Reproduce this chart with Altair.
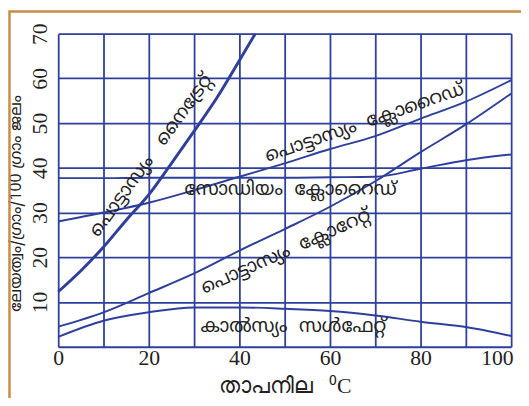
import altair as alt
import pandas as pd

# ---- data ----
temps = [0, 10, 20, 30, 40, 50, 60, 70, 80, 90, 100]
kno3_t = [0, 5, 10, 15, 20, 25, 30, 35, 40, 43.5]
kno3_s = [12.3, 17.0, 22.3, 28.3, 34.0, 41.0, 48.2, 55.6, 64.0, 70.0]
kcl_s = [28.0, 30.0, 32.2, 35.0, 38.0, 41.0, 44.2, 47.1, 51.0, 54.8, 59.6]
nacl_s = [37.7, 37.7, 37.8, 37.8, 37.8, 37.8, 37.9, 38.0, 39.8, 41.7, 43.0]
kclo3_s = [4.5, 7.7, 12.0, 16.4, 21.5, 26.3, 31.3, 37.0, 43.5, 49.7, 56.6]
caso4_s = [2.2, 5.8, 7.7, 8.8, 8.8, 8.5, 8.0, 7.0, 5.6, 4.4, 2.4]

x_ticks = [0, 10, 20, 30, 40, 50, 60, 70, 80, 90, 100]
y_ticks = [0, 10, 20, 30, 40, 50, 60, 70]

NB = "\u00a0"
label_text = ["പൊട്ടാസ്യം" + NB * 3 + "നൈട്രേറ്റ്",
              "പൊട്ടാസ്യം" + NB * 2 + "ക്ലോറൈഡ്",
              "സോഡിയം" + NB * 2 + "ക്ലോറൈഡ്",
              "പൊട്ടാസ്യം" + NB * 2 + "ക്ലോറേറ്റ്",
              "കാൽസ്യം" + NB * 2 + "സൾഫേറ്റ്"]
label_t = [20.4, 67.6, 51.3, 50.2, 51.9]
label_s = [42.8, 50.2, 35.2, 21.4, 4.6]
label_angle = [-54, -19, 0, -24, 0]

x_title = "താപനില" + NB * 3 + "⁰C"
y_title = "ലേയത്വം/ഗ്രാം/100 ഗ്രാം ജലം"

BLUE = "#2f3f9c"
ORANGE = "#c98b45"
MAL = "'Noto Sans Malayalam', 'Noto Sans', sans-serif"
SERIF = "'Liberation Serif', 'Times New Roman', Times, serif"

rows = []
for t, s in zip(kno3_t, kno3_s):
    rows.append({"series": "KNO3", "T": t, "S": s})
for name, vals in [("KCl", kcl_s), ("NaCl", nacl_s), ("KClO3", kclo3_s), ("CaSO4", caso4_s)]:
    for t, s in zip(temps, vals):
        rows.append({"series": name, "T": t, "S": s})
df = pd.DataFrame(rows)

labels = pd.DataFrame({"text": label_text, "T": label_t, "S": label_s, "angle": label_angle})

xscale = alt.Scale(domain=[0, 100], nice=False, zero=False)
yscale = alt.Scale(domain=[0, 70], nice=False)

xaxis = alt.Axis(
    values=x_ticks, grid=True, gridColor=BLUE, gridWidth=1.8, gridOpacity=1,
    domain=False, ticks=False, tickSize=0,
    labelExpr="datum.value % 20 == 0 ? datum.label : ''",
    labelFont=SERIF, labelFontSize=22, labelColor="#222", labelPadding=1,
    labelAlign={"condition": {"test": "datum.value == 100", "value": "right"}, "value": "center"},
    labelOffset={"condition": {"test": "datum.value == 100", "value": 2}, "value": 0},
    title=x_title, titleFont=SERIF, titleFontSize=22, titleFontWeight="normal",
    titleColor="#222", titlePadding=7,
)
yaxis = alt.Axis(
    values=y_ticks, grid=True, gridColor=BLUE, gridWidth=1.8, gridOpacity=1,
    domain=False, ticks=False, tickSize=0,
    labelExpr="datum.value == 0 ? '' : datum.label",
    labelFont=SERIF, labelFontSize=22, labelColor="#222", labelAngle=-90,
    labelPadding=7,
    title=y_title, titleFont=MAL, titleFontSize=16, titleFontWeight="normal",
    titleColor="#222", titleAngle=-90, titleX=-43, titleY=172,
    titleBaseline="middle", titleAlign="center",
)

lines = alt.Chart(df).transform_filter("datum.series != 'KNO3'").mark_line(
    color=BLUE, strokeWidth=2, interpolate="monotone"
).encode(
    x=alt.X("T:Q", scale=xscale, axis=xaxis),
    y=alt.Y("S:Q", scale=yscale, axis=yaxis),
    detail="series:N",
)
kno3 = alt.Chart(df).transform_filter("datum.series == 'KNO3'").mark_line(
    color=BLUE, strokeWidth=3, interpolate="monotone"
).encode(x=alt.X("T:Q", scale=xscale), y=alt.Y("S:Q", scale=yscale))

texts = alt.Chart(labels).mark_text(
    font=MAL, fontSize=19, color="#222", align="center", baseline="middle"
).encode(
    x=alt.X("T:Q", scale=xscale), y=alt.Y("S:Q", scale=yscale),
    text="text:N", angle=alt.Angle("angle:Q", scale=None),
)

frame = alt.Chart(pd.DataFrame({"a": [0]})).mark_rect(
    fill=None, stroke=ORANGE, strokeWidth=2.5, clip=False
).encode(
    x=alt.value(-49.5), x2=alt.value(490), y=alt.value(-22.5), y2=alt.value(400)
)

chart = alt.layer(lines, kno3, texts, frame).properties(
    width=460, height=318,
    autosize=alt.AutoSizeParams(type="none"),
    padding={"left": 51, "top": 23, "right": 10, "bottom": 49},
).configure_view(stroke=BLUE, strokeWidth=2).configure(background="white")

chart.save("out.html", embed_options={"renderer": "svg", "actions": False})
